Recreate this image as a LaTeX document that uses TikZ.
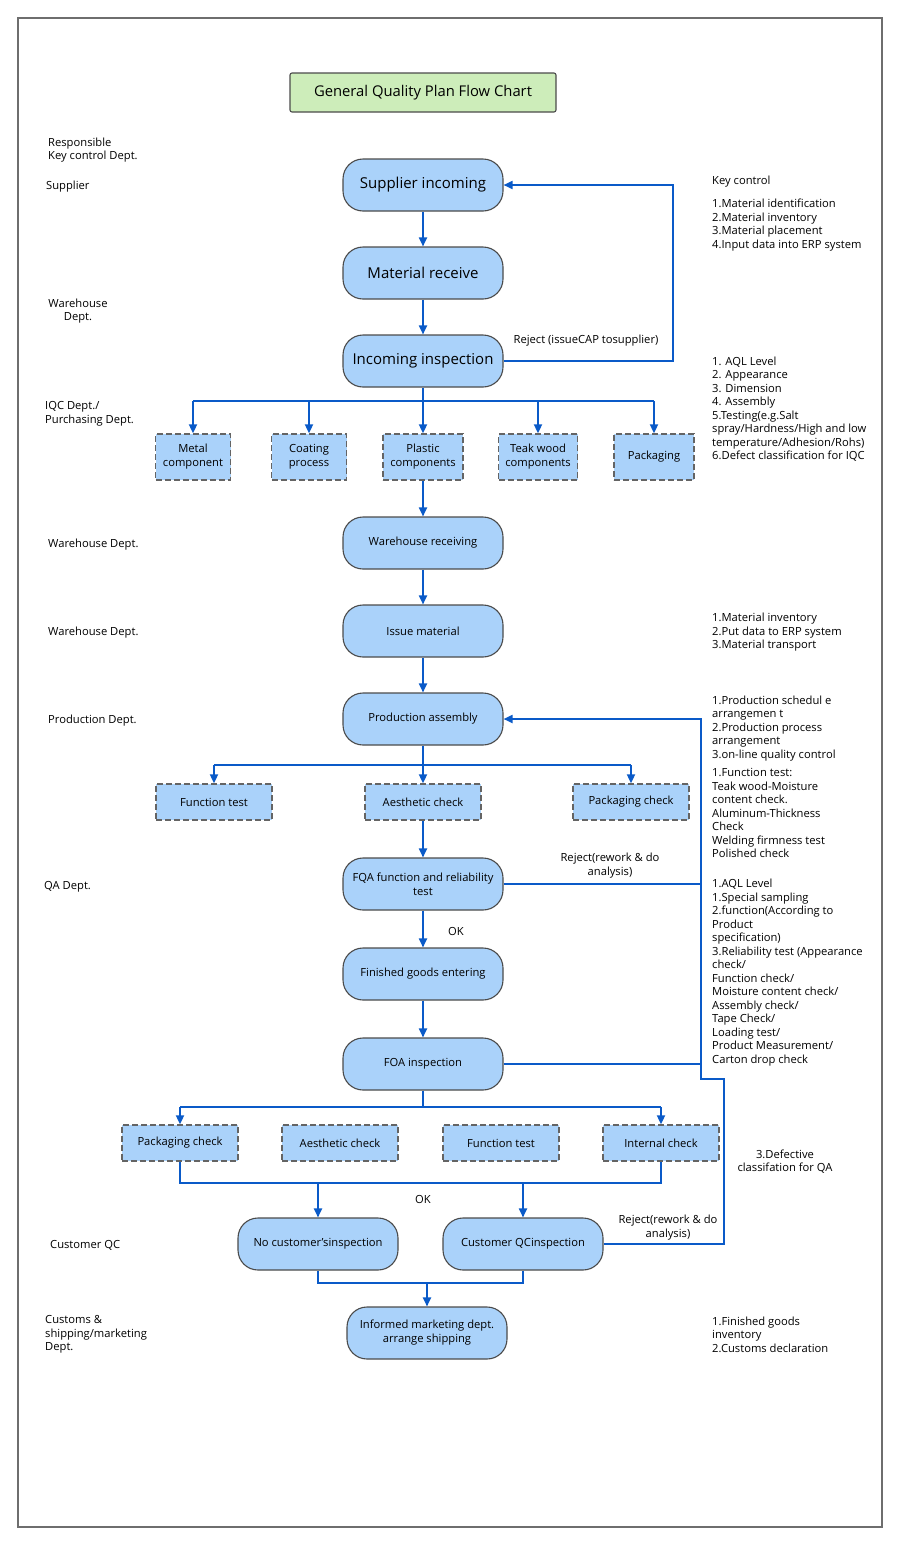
\documentclass[tikz,border=0pt]{standalone}
\usepackage{fontspec}
\setmainfont{Open Sans}
\usetikzlibrary{arrows.meta}
\definecolor{nodefill}{RGB}{170,210,250}
\definecolor{nodeedge}{RGB}{75,75,75}
\definecolor{dashedge}{RGB}{100,100,100}
\definecolor{conn}{RGB}{10,90,200}
\definecolor{titlefill}{RGB}{205,237,186}
\definecolor{framec}{RGB}{110,110,110}
\tikzset{
  stadium/.style={draw=nodeedge, line width=1.1pt, fill=nodefill, rounded corners=20pt,
    minimum width=160pt, minimum height=52pt, inner sep=0pt, align=center,
    font=\fontsize{11.2}{14}\selectfont},
  bigtext/.style={font=\fontsize{15}{18}\selectfont},
  dbox/.style={draw=dashedge, dash pattern=on 6pt off 3pt, line width=1.3pt, fill=nodefill,
    minimum height=46pt, inner sep=0pt, align=center, font=\fontsize{11.2}{14}\selectfont},
  sbox/.style={dbox, minimum height=36pt, minimum width=116pt},
  cline/.style={draw=conn, line width=1.8pt},
  arr/.style={cline, -{Triangle[width=8pt,length=9pt]}},
  lbl/.style={inner sep=0pt, align=left, font=\fontsize{11.2}{13.5}\selectfont},
}
\begin{document}
\begin{tikzpicture}[x=1pt,y=-1pt]
\useasboundingbox (0,0) rectangle (900,1545);
\draw[framec, line width=1.2pt] (18,18) rectangle (882,1527);

% title
\node[draw=nodeedge, line width=1.1pt, fill=titlefill, rounded corners=2pt, minimum width=266pt,
  minimum height=39pt, inner sep=0pt, font=\fontsize{14.8}{18}\selectfont] (title) at (423,92.5) {General Quality Plan Flow Chart};

% main nodes
\node[stadium, bigtext] (sup) at (423,185) {Supplier incoming};
\node[stadium, bigtext] (mat) at (423,273) {Material receive};
\node[stadium, bigtext] (inc) at (423,361) {Incoming inspection};
\node[stadium] (wr) at (423,543) {Warehouse receiving};
\node[stadium] (iss) at (423,631) {Issue material};
\node[stadium] (pa) at (423,719) {Production assembly};
\node[stadium] (fqa) at (423,884) {FQA function and reliability\\test};
\node[stadium] (fge) at (423,974) {Finished goods entering};
\node[stadium] (foa) at (423,1064) {FOA inspection};
\node[stadium] (nci) at (318,1244) {No customer'sinspection};
\node[stadium] (cqc) at (523,1244) {Customer QCinspection};
\node[stadium] (ship) at (427,1333) {Informed marketing dept.\\arrange shipping};

% dashed boxes row 1
\node[dbox, minimum width=75pt] (metal) at (193,457) {Metal\\component};
\node[dbox, minimum width=75pt] (coat) at (309,457) {Coating\\process};
\node[dbox, minimum width=80pt] (plast) at (423,457) {Plastic\\components};
\node[dbox, minimum width=79pt] (teak) at (538,457) {Teak wood\\components};
\node[dbox, minimum width=80pt] (packa) at (654,457) {Packaging};

% row 2
\node[sbox] (ft1) at (214,802) {Function test};
\node[sbox] (ac1) at (423,802) {Aesthetic check};
\node[sbox] (pc1) at (631,802) {Packaging check};

% row 3
\node[sbox] (pc2) at (180,1143) {Packaging check};
\node[sbox] (ac2) at (340,1143) {Aesthetic check};
\node[sbox] (ft2) at (501,1143) {Function test};
\node[sbox] (ic2) at (661,1143) {Internal check};

% connectors top
\draw[arr] (sup) -- (mat);
\draw[arr] (mat) -- (inc);
\coordinate (b1) at (423,401);
\draw[arr] (inc) -- (plast);
\draw[cline] (metal.north |- b1) -- (packa.north |- b1);
\draw[arr] (metal.north |- b1) -- (metal.north);
\draw[arr] (coat.north |- b1) -- (coat.north);
\draw[arr] (teak.north |- b1) -- (teak.north);
\draw[arr] (packa.north |- b1) -- (packa.north);
\draw[arr] (plast) -- (wr);
\draw[arr] (wr) -- (iss);
\draw[arr] (iss) -- (pa);

% reject 1
\coordinate (r1) at (673,361);
\draw[arr] (inc.east) -- (r1) -- (r1 |- sup.east) -- (sup.east);
\node[lbl] (rej1) at (586,340.5) {Reject (issueCAP tosupplier)};

% row 2 connectors
\coordinate (b2) at (423,765);
\draw[arr] (pa) -- (ac1);
\draw[cline] (ft1.north |- b2) -- (pc1.north |- b2);
\draw[arr] (ft1.north |- b2) -- (ft1.north);
\draw[arr] (pc1.north |- b2) -- (pc1.north);
\draw[arr] (ac1) -- (fqa);
\draw[arr] (fqa) -- (fge);
\node[lbl] (ok1) at (456,931.5) {OK};
\draw[arr] (fge) -- (foa);

% reject 2 (FQA / FOA / customer QC back to production assembly)
\coordinate (r2) at (701,884);
\coordinate (r2b) at (701,1079);
\coordinate (r3) at (724,1079);
\draw[arr] (fqa.east) -- (r2) -- (r2 |- pa.east) -- (pa.east);
\draw[cline] (foa.east) -- (foa.east -| r2);
\draw[cline] (r2) -- (r2b) -- (r3) -- (r3 |- cqc.east) -- (cqc.east);
\node[lbl, align=center] (rej2) at (610,865.5) {Reject(rework \& do\\analysis)};
\node[lbl, align=center] (rej3) at (668,1227.5) {Reject(rework \& do\\analysis)};

% row 3 connectors
\coordinate (b3) at (423,1107);
\draw[cline] (foa.south) -- (b3);
\draw[cline] (pc2.north |- b3) -- (ic2.north |- b3);
\draw[arr] (pc2.north |- b3) -- (pc2.north);
\draw[arr] (ic2.north |- b3) -- (ic2.north);
\coordinate (b4) at (180,1183);
\draw[cline] (pc2.south) -- (b4) -- (b4 -| ic2.south) -- (ic2.south);
\draw[arr] (nci.north |- b4) -- (nci.north);
\draw[arr] (cqc.north |- b4) -- (cqc.north);
\node[lbl] (ok2) at (423,1199.5) {OK};
\coordinate (b5) at (318,1283);
\draw[cline] (nci.south) -- (b5) -- (b5 -| cqc.south) -- (cqc.south);
\draw[arr] (ship.north |- b5) -- (ship.north);

% left dept labels
\node[lbl, anchor=west] (d1) at (48,150) {Responsible\\Key control Dept.};
\node[lbl, anchor=west] (d2) at (46,186.5) {Supplier};
\node[lbl, align=center] (d3) at (78,311) {Warehouse\\Dept.};
\node[lbl, anchor=west] (d4) at (45,414) {IQC Dept./\\Purchasing Dept.};
\node[lbl, anchor=west] (d5) at (48,544.5) {Warehouse Dept.};
\node[lbl, anchor=west] (d6) at (48,632.5) {Warehouse Dept.};
\node[lbl, anchor=west] (d7) at (48,720.5) {Production Dept.};
\node[lbl, anchor=west] (d8) at (44,886.5) {QA Dept.};
\node[lbl, anchor=west] (d9) at (50,1245.5) {Customer QC};
\node[lbl, anchor=west] (d10) at (45,1334.5) {Customs \&\\shipping/marketing\\Dept.};

% right key control texts
\node[lbl, anchor=west] (k0) at (712,181.5) {Key control};
\node[lbl, anchor=west] (k1) at (712,225) {1.Material identification\\2.Material inventory\\3.Material placement\\4.Input data into ERP system};
\node[lbl, anchor=west] (k2) at (712,409) {1. AQL Level\\2. Appearance\\3. Dimension\\4. Assembly\\5.Testing(e.g.Salt\\spray/Hardness/High and low\\temperature/Adhesion/Rohs)\\6.Defect classification for IQC};
\node[lbl, anchor=west] (k3) at (712,632.5) {1.Material inventory\\2.Put data to ERP system\\3.Material transport};
\node[lbl, anchor=west] (k4) at (712,728.5) {1.Production schedul e\\arrangemen t\\2.Production process\\arrangement\\3.on-line quality control};
\node[lbl, anchor=west] (k5) at (712,813) {1.Function test:\\Teak wood-Moisture\\content check.\\Aluminum-Thickness\\Check\\Welding firmness test\\Polished check};
\node[lbl, anchor=west] (k6) at (712,972.5) {1.AQL Level\\1.Special sampling\\2.function(According to\\Product\\specification)\\3.Reliability test (Appearance\\check/\\Function check/\\Moisture content check/\\Assembly check/\\Tape Check/\\Loading test/\\Product Measurement/\\Carton drop check};
\node[lbl, align=center] (k7) at (785,1161.5) {3.Defective\\classifation for QA};
\node[lbl, anchor=west] (k8) at (712,1334.5) {1.Finished goods\\inventory\\2.Customs declaration};
\end{tikzpicture}
\end{document}
